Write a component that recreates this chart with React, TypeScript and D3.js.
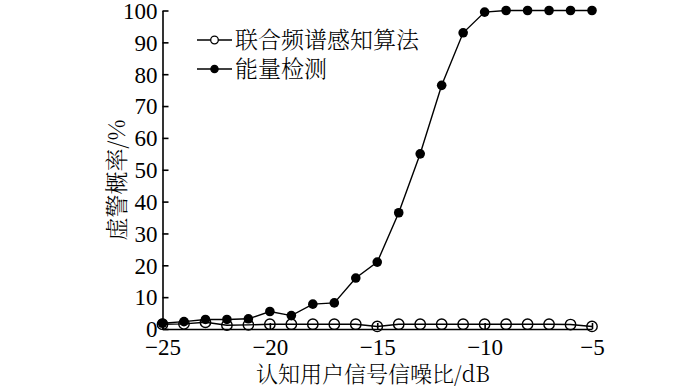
import { useEffect, useRef } from 'react'
import * as d3 from 'd3'

const snr = [-25, -24, -23, -22, -21, -20, -19, -18, -17, -16, -15, -14, -13, -12, -11, -10, -9, -8, -7, -6, -5]
const jointSensing = [1.5, 1.6, 2.1, 1.2, 1.3, 1.5, 1.5, 1.5, 1.5, 1.5, 0.8, 1.5, 1.5, 1.5, 1.5, 1.5, 1.5, 1.5, 1.5, 1.4, 0.8]
const energyDetect = [1.8, 2.3, 3.0, 3.0, 3.2, 5.5, 4.2, 7.8, 8.2, 16, 21, 36.5, 55, 76.5, 93, 99.5, 100, 100, 100, 100, 100]
const xTicks = [-25, -20, -15, -10, -5]
const yTicks = [0, 10, 20, 30, 40, 50, 60, 70, 80, 90, 100]
const legendNames = ['联合频谱感知算法', '能量检测']

const NUM_FONT = 'Liberation Serif, Times New Roman, serif'
const CJK_FONT = 'Noto Serif CJK SC, serif'

export default function App() {
  const svgRef = useRef<SVGSVGElement>(null)

  useEffect(() => {
    document.body.style.margin = '0'
    if (!svgRef.current) return
    const width = 700
    const height = 389
    const svg = d3.select(svgRef.current)
    svg.selectAll('*').remove()
    svg.attr('width', width).attr('height', height)

    const x = d3.scaleLinear().domain([-25, -5]).range([162.5, 592])
    const y = d3.scaleLinear().domain([0, 100]).range([329, 10.5])

    const g = svg.append('g')

    // y axis, ticks inward
    const yAxis = g.append('g')
      .attr('transform', `translate(${x(-25)},0)`)
      .call(d3.axisLeft(y).tickValues(yTicks).tickSizeInner(-6).tickSizeOuter(0).tickPadding(5))
    yAxis.attr('font-family', NUM_FONT).attr('font-size', 23)
    yAxis.selectAll('text')
      .attr('fill', '#000')
      .attr('dy', '0.34em')
    yAxis.selectAll('.domain, .tick line').attr('stroke', '#000').attr('stroke-width', 1.6)

    // x axis, ticks inward
    const xAxis = g.append('g')
      .attr('transform', `translate(0,${y(0)})`)
      .call(d3.axisBottom(x).tickValues(xTicks).tickSizeInner(-6).tickSizeOuter(0).tickPadding(10)
        .tickFormat((d) => `${d}`.replace('-', '−')))
    xAxis.attr('font-family', NUM_FONT).attr('font-size', 23)
    xAxis.selectAll('text').attr('fill', '#000')
    xAxis.selectAll('.domain, .tick line').attr('stroke', '#000').attr('stroke-width', 1.6)

    const line = d3.line<number>()
      .x((_, i) => x(snr[i]))
      .y((d) => y(d))

    // joint sensing (open circles)
    g.append('path').datum(jointSensing).attr('d', line)
      .attr('fill', 'none').attr('stroke', '#000').attr('stroke-width', 1.4)
    g.selectAll('circle.open').data(jointSensing).join('circle')
      .attr('class', 'open')
      .attr('cx', (_, i) => x(snr[i])).attr('cy', (d) => y(d)).attr('r', 5.2)
      .attr('fill', 'none').attr('stroke', '#000').attr('stroke-width', 1.4)

    // energy detection (filled)
    g.append('path').datum(energyDetect).attr('d', line)
      .attr('fill', 'none').attr('stroke', '#000').attr('stroke-width', 1.4)
    g.selectAll('circle.filled').data(energyDetect).join('circle')
      .attr('class', 'filled')
      .attr('cx', (_, i) => x(snr[i])).attr('cy', (d) => y(d)).attr('r', 4.8)
      .attr('fill', '#000')

    // legend
    const legend = svg.append('g')
    legendNames.forEach((name, i) => {
      const ly = 40 + i * 29
      legend.append('line').attr('x1', 197).attr('x2', 232).attr('y1', ly).attr('y2', ly)
        .attr('stroke', '#000').attr('stroke-width', 1.4)
      legend.append('circle').attr('cx', 214.5).attr('cy', ly).attr('r', i === 0 ? 3.8 : 3.6)
        .attr('fill', i === 0 ? '#fff' : '#000').attr('stroke', '#000').attr('stroke-width', 1.3)
      legend.append('text').attr('x', 235).attr('y', ly + 8)
        .attr('font-family', CJK_FONT).attr('font-size', 23).attr('font-weight', 300)
        .text(name)
    })

    // axis titles
    svg.append('text')
      .attr('x', 373).attr('y', 382)
      .attr('text-anchor', 'middle')
      .attr('font-size', 22).attr('font-weight', 300)
      .attr('font-family', CJK_FONT)
      .text('认知用户信号信噪比/dB')

    svg.append('text')
      .attr('transform', `translate(125,180) rotate(-90)`)
      .attr('text-anchor', 'middle')
      .attr('font-size', 23).attr('font-weight', 300)
      .attr('font-family', CJK_FONT)
      .text('虚警概率/%')
  }, [])

  return <svg ref={svgRef} style={{ display: 'block' }} />
}
